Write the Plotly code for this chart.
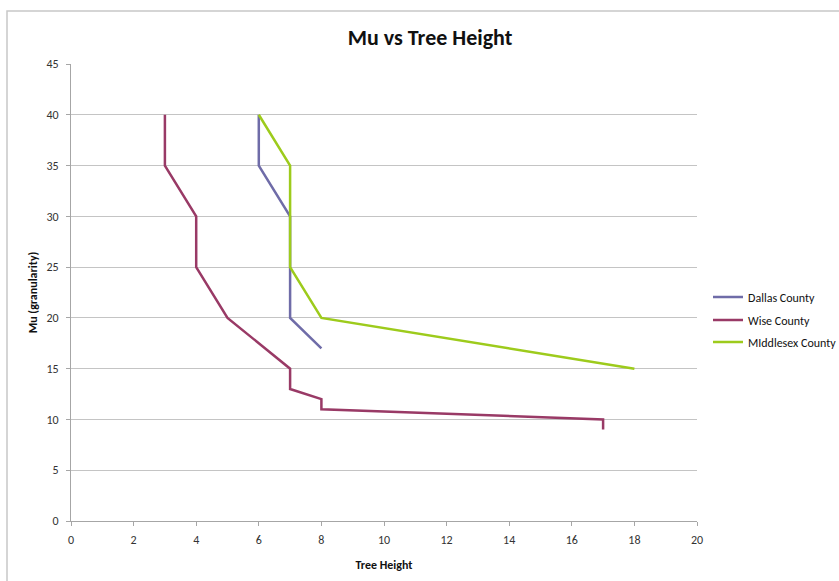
import plotly.graph_objects as go

# Tree height (x) against Mu granularity (y) for each county
dallas_height = [6, 6, 7, 7, 7, 8]
dallas_mu = [40, 35, 30, 25, 20, 17]

wise_height = [3, 3, 4, 4, 5, 7, 7, 8, 8, 17, 17]
wise_mu = [40, 35, 30, 25, 20, 15, 13, 12, 11, 10, 9]

middlesex_height = [6, 7, 7, 7, 8, 18]
middlesex_mu = [40, 35, 30, 25, 20, 15]

x_ticks = [0, 2, 4, 6, 8, 10, 12, 14, 16, 18, 20]
y_ticks = [0, 5, 10, 15, 20, 25, 30, 35, 40, 45]

FONT = "Calibri, Carlito, Lato, 'Open Sans', sans-serif"

fig = go.Figure()
fig.add_trace(go.Scatter(x=dallas_height, y=dallas_mu, mode="lines",
                         name="Dallas County", legend="legend",
                         line=dict(color="#6F6CA8", width=2.5)))
fig.add_trace(go.Scatter(x=wise_height, y=wise_mu, mode="lines",
                         name="Wise County", legend="legend2",
                         line=dict(color="#993A66", width=2.5)))
fig.add_trace(go.Scatter(x=middlesex_height, y=middlesex_mu, mode="lines",
                         name="MIddlesex County", legend="legend3",
                         line=dict(color="#9DCB1C", width=2.5)))

# plot area spans pixels x 71..697, y 64..521
L, R, T, B = 71, 142, 64, 60
W, H = 839, 581
pw, ph = W - L - R, H - T - B

def px_x(p):
    return (p - L) / pw

def px_y(p):
    return (H - B - p) / ph

def legend_row(y_px):
    return dict(x=px_x(708), xanchor="left", y=px_y(y_px), yanchor="middle",
                font=dict(size=12, color="#111111"),
                bgcolor="rgba(0,0,0,0)")

fig.update_layout(
    width=W, height=H,
    margin=dict(l=L, r=R, t=T, b=B, autoexpand=False),
    paper_bgcolor="white", plot_bgcolor="white",
    font=dict(family=FONT, size=12, color="#333333"),
    title=dict(text="<b>Mu vs Tree Height</b>", x=430 / W, xref="container",
               xanchor="center", y=1 - 37 / H, yanchor="middle",
               font=dict(size=22, color="#111111")),
    xaxis=dict(range=[0, 20], tickvals=x_ticks, showgrid=False,
               showline=True, linecolor="#A6A6A6", linewidth=1,
               ticks="outside", ticklen=4, tickcolor="#A6A6A6",
               ticklabelstandoff=4,
               tickfont=dict(size=12, color="#333333"),
               zeroline=False, fixedrange=True,
               title=dict(text="<b>Tree Height</b>", standoff=14,
                          font=dict(size=12, color="#111111"))),
    yaxis=dict(range=[0, 45], tickvals=y_ticks, showgrid=True,
               gridcolor="#C4C4C4", gridwidth=1,
               showline=True, linecolor="#A6A6A6", linewidth=1,
               ticks="outside", ticklen=4, tickcolor="#A6A6A6",
               ticklabelstandoff=5,
               tickfont=dict(size=12, color="#333333"),
               zeroline=False, fixedrange=True,
               title=dict(text="<b>Mu (granularity)</b>", standoff=6,
                          font=dict(size=12, color="#111111"))),
    legend=legend_row(297),
    legend2=legend_row(320),
    legend3=legend_row(342),
    showlegend=True,
)

# chart frame around the whole figure
fig.add_shape(type="rect", xref="paper", yref="paper",
              x0=px_x(7), x1=px_x(850), y0=px_y(595), y1=px_y(11),
              line=dict(color="#C8C8C8", width=1.5), layer="below")

fig.write_html("out.html")
